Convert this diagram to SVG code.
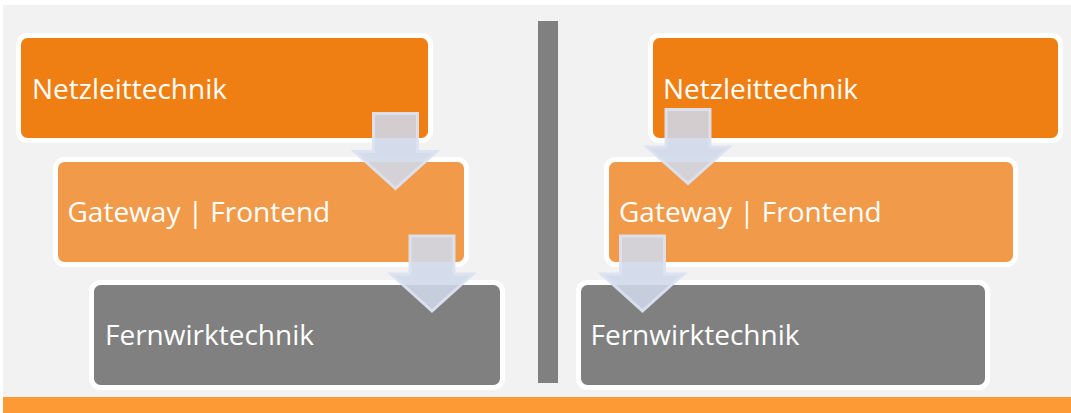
<svg xmlns="http://www.w3.org/2000/svg" width="1071" height="413" viewBox="0 0 1071 413">
<defs>
<style>
.box{stroke:#ffffff;stroke-width:5}
.c1{fill:#F07F13}
.c2{fill:#F19A4A}
.c3{fill:#808080}
.lbl{font-family:"Open Sans","Noto Sans",sans-serif;font-size:28px;fill:#ffffff}
.arr{fill:#CFD8EA;fill-opacity:0.88;stroke:#DCE2F0;stroke-opacity:0.95;stroke-width:3;stroke-linejoin:miter}
</style>
</defs>
<rect x="0" y="0" width="1071" height="413" fill="#ffffff"/>
<rect x="3" y="5" width="1068" height="392" fill="#F2F2F2"/>
<rect x="3" y="397" width="1068" height="16" fill="#FE9A36"/>
<rect id="divider" x="538" y="21" width="20" height="362" fill="#808080"/>
<g id="left-netzleittechnik">
<rect class="box c1" x="18.5" y="35.5" width="412" height="105" rx="9"/>
<text class="lbl" x="32" y="98.5">Netzleittechnik</text>
</g>
<g id="left-gateway">
<rect class="box c2" x="55.5" y="159.5" width="411" height="105" rx="9"/>
<text class="lbl" x="67.5" y="222">Gateway | Frontend</text>
</g>
<g id="left-fernwirktechnik">
<rect class="box c3" x="91.5" y="282.5" width="411" height="105" rx="9"/>
<text class="lbl" x="105" y="345">Fernwirktechnik</text>
</g>
<g id="right-netzleittechnik">
<rect class="box c1" x="650.5" y="35.5" width="410" height="105" rx="9"/>
<text class="lbl" x="663" y="98.5">Netzleittechnik</text>
</g>
<g id="right-gateway">
<rect class="box c2" x="606.5" y="159.5" width="409" height="105" rx="9"/>
<text class="lbl" x="619" y="222">Gateway | Frontend</text>
</g>
<g id="right-fernwirktechnik">
<rect class="box c3" x="578.5" y="282.5" width="409" height="105" rx="9"/>
<text class="lbl" x="590.5" y="345">Fernwirktechnik</text>
</g>
<g id="connectors">
<path class="arr" d="M373.5,113.5 h44 v38 h19 L395.5,188.5 L354.5,151.5 h19 z"/>
<path class="arr" d="M410,236 h44 v38 h19 L432,311 L391,274 h19 z"/>
<path class="arr" d="M666,109.5 h44 v37.5 h19 L688,183.5 L647,147 h19 z"/>
<path class="arr" d="M620.5,236 h44 v38 h19 L642.5,311 L601.5,274 h19 z"/>
</g>
</svg>
